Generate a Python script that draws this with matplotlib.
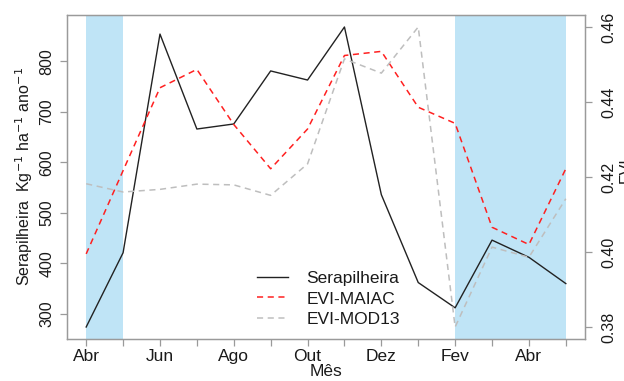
import matplotlib
matplotlib.use("Agg")
import matplotlib.pyplot as plt
import numpy as np

plt.rcParams['font.family'] = ['Liberation Sans', 'DejaVu Sans']

# monthly index, Abr -> May of following year
MESES = ['Abr', 'Jun', 'Ago', 'Out', 'Dez', 'Fev', 'Abr']
SERAPILHEIRA = [274, 421, 854, 666, 676, 781, 763, 868, 536, 362, 312, 446, 412, 360]
EVI_MAIAC = [0.3995, 0.4217, 0.4438, 0.4487, 0.4340, 0.4222, 0.4328,
             0.4524, 0.4535, 0.4386, 0.4343, 0.4066, 0.4020, 0.4222]
EVI_MOD13 = [0.4182, 0.4160, 0.4167, 0.4181, 0.4179, 0.4151, 0.4235,
             0.4515, 0.4477, 0.4600, 0.3800, 0.4013, 0.3986, 0.4142]
# shaded (wet season) index ranges
PERIODOS = [(0, 1), (10, 13)]

x = np.arange(len(SERAPILHEIRA))
txt = '#1a1a1a'
box = '#9a9a9a'
fs_h = 12.5   # horizontal text
fs_v = 11.5   # rotated text

fig = plt.figure(figsize=(6.24, 3.81), dpi=100)
ax = fig.add_axes([67/624, 42/381, 518/624, 324/381])

for (a, b) in PERIODOS:
    ax.axvspan(a, b, color='#bfe4f6', lw=0, zorder=0)

l1, = ax.plot(x, SERAPILHEIRA, color='#222222', lw=1.0, label='Serapilheira', zorder=3)
ax.set_xlim(-0.52, 13.52)
lo, hi = min(SERAPILHEIRA), max(SERAPILHEIRA)
pad = (hi - lo) * 0.04
ax.set_ylim(lo - pad, hi + pad)
ax.set_yticks([300, 400, 500, 600, 700, 800])
ax.set_xticks(x)
ax.set_xticklabels([MESES[i // 2] if i % 2 == 0 else '' for i in x])

ax2 = ax.twinx()
l2, = ax2.plot(x, EVI_MAIAC, color='#ff2020', lw=1.1, dashes=(4, 3), label='EVI-MAIAC')
l3, = ax2.plot(x, EVI_MOD13, color='#bebebe', lw=1.1, dashes=(4, 3), label='EVI-MOD13')
lo2, hi2 = min(EVI_MOD13), max(EVI_MOD13)
pad2 = (hi2 - lo2) * 0.04
ax2.set_ylim(lo2 - pad2, hi2 + pad2)
ax2.set_yticks([0.38, 0.40, 0.42, 0.44, 0.46])
ax2.set_yticklabels(['0.38', '0.40', '0.42', '0.44', '0.46'])

for a in (ax, ax2):
    for s in a.spines.values():
        s.set_color(box)
        s.set_linewidth(0.9)
    a.tick_params(colors=box, labelcolor=txt, length=5, width=0.9)
ax.tick_params(axis='x', labelsize=fs_h, pad=2)
ax.tick_params(axis='y', labelsize=fs_v, pad=4)
ax2.tick_params(axis='y', labelsize=fs_v, pad=7)
for lab in ax.get_yticklabels() + ax2.get_yticklabels():
    lab.set_rotation(90)
    lab.set_va('center')

ax.set_xlabel('Mês', fontsize=fs_h, color=txt, labelpad=0)
ax.set_ylabel('Serapilheira  Kg$^{-1}$ ha$^{-1}$ ano$^{-1}$', fontsize=fs_v, color=txt)
ax.yaxis.set_label_coords(-0.062, 0.5)
ax2.set_ylabel('EVI', fontsize=fs_v, color=txt)
ax2.yaxis.set_label_coords(1.0655, 0.52)

fig.legend(handles=[l1, l2, l3], loc='upper left', bbox_to_anchor=(257/624, 1 - 271/381),
           frameon=False, fontsize=fs_h, handlelength=1.8, handletextpad=1.05,
           labelspacing=0.3, borderpad=0, borderaxespad=0, labelcolor=txt)

fig.savefig('out.png', dpi=100)
